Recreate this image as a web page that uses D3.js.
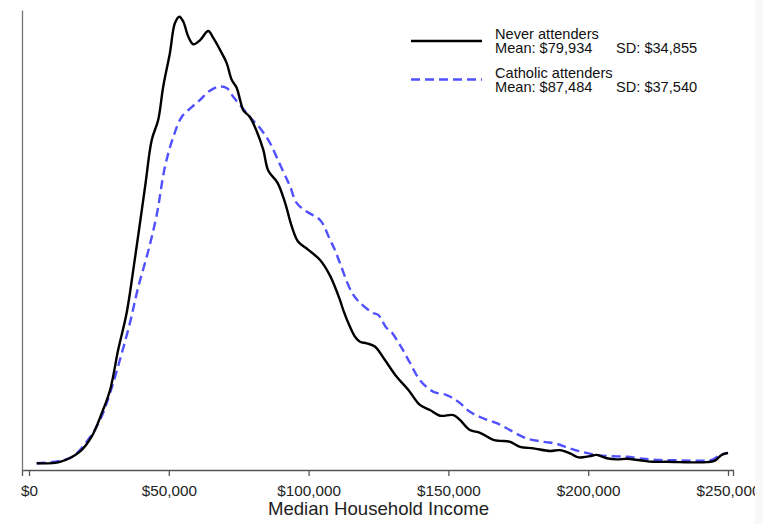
<!DOCTYPE html>
<html>
<head>
<meta charset="utf-8">
<script src="https://cdn.jsdelivr.net/npm/d3@7"></script>
<style>
  html, body { margin: 0; padding: 0; background: #ffffff; }
  svg { display: block; }
  text { font-family: Arial, "Liberation Sans", sans-serif; }
</style>
</head>
<body>
<svg id="chart" width="763" height="524"></svg>
<script>
// ---- Data (density in units of 1e-6 per dollar) ----
const neverIncome = [2750, 11100, 18200, 22400, 26000, 29000, 31900, 34900, 37300, 41500, 43900, 46200, 48000, 50400, 52200, 53800, 55200, 57000, 58800, 61200, 64100, 65900, 68900, 70700, 72500, 74300, 75500, 76600, 79000, 81400, 83800, 85600, 88900, 91600, 94000, 96300, 99900, 104100, 107700, 111200, 112400, 114800, 116600, 118400, 120800, 123700, 127300, 131500, 135700, 139800, 143400, 147000, 151800, 154100, 157700, 161300, 166100, 168500, 172000, 175600, 180400, 186300, 189900, 193500, 196500, 200600, 203000, 206600, 210200, 213800, 218500, 223300, 228100, 232800, 238800, 242400, 245300, 247700, 250000];
const neverDensity = [0.09, 0.14, 0.48, 0.98, 1.76, 2.54, 3.88, 5.10, 6.55, 9.32, 10.89, 11.56, 12.67, 13.80, 14.80, 15.01, 14.84, 14.34, 14.09, 14.23, 14.53, 14.30, 13.80, 13.46, 12.90, 12.63, 12.23, 11.89, 11.66, 11.19, 10.56, 9.86, 9.46, 8.79, 8.00, 7.49, 7.22, 6.88, 6.35, 5.55, 5.21, 4.65, 4.32, 4.15, 4.10, 3.99, 3.54, 2.98, 2.54, 2.04, 1.87, 1.68, 1.70, 1.54, 1.20, 1.11, 0.87, 0.84, 0.81, 0.64, 0.59, 0.50, 0.53, 0.42, 0.29, 0.33, 0.37, 0.26, 0.22, 0.24, 0.19, 0.14, 0.14, 0.13, 0.12, 0.13, 0.18, 0.37, 0.44];

const catholicIncome = [2750, 14700, 21100, 25400, 29000, 32500, 36100, 39000, 42700, 45700, 48600, 51600, 54600, 58200, 61200, 64100, 67700, 70700, 73100, 76100, 79000, 82600, 86200, 89800, 93300, 95700, 99300, 104100, 107700, 109400, 111200, 115400, 118400, 123100, 124900, 127900, 129100, 132700, 136300, 139800, 144600, 149400, 153500, 157700, 162500, 167300, 172000, 178000, 183900, 188700, 193500, 198200, 203000, 207800, 213800, 219700, 225700, 231700, 237600, 242400, 244700, 247100, 250000];
const catholicDensity = [0.09, 0.27, 0.87, 1.54, 2.44, 3.54, 4.78, 5.95, 7.20, 8.40, 9.99, 10.99, 11.66, 11.99, 12.23, 12.50, 12.67, 12.63, 12.33, 11.99, 11.66, 11.29, 10.79, 10.06, 9.36, 8.79, 8.50, 8.22, 7.55, 7.22, 6.78, 5.81, 5.45, 5.11, 5.05, 4.61, 4.54, 4.04, 3.44, 2.87, 2.48, 2.37, 2.15, 1.81, 1.59, 1.43, 1.20, 0.92, 0.81, 0.74, 0.59, 0.46, 0.37, 0.33, 0.31, 0.24, 0.20, 0.19, 0.18, 0.18, 0.22, 0.37, 0.44];

const xTicks = [0, 50000, 100000, 150000, 200000, 250000];
const seriesNames = ["Never attenders", "Catholic attenders"];
const seriesMeans = ["Mean: $79,934", "Mean: $87,484"];
const seriesSDs = ["SD: $34,855", "SD: $37,540"];
const xTitle = "Median Household Income";

// ---- Chart ----
const svg = d3.select("#chart");
svg.append("rect").attr("x", 0).attr("y", 0).attr("width", 763).attr("height", 524).attr("fill", "#ffffff");
svg.append("rect").attr("x", 755).attr("y", 0).attr("width", 8).attr("height", 524).attr("fill", "#f8f8f8");

const x = d3.scaleLinear().domain([0, 250000]).range([29, 728]);
const y = d3.scaleLinear().domain([0, 15]).range([466, 17]);

const clip = svg.append("defs").append("clipPath").attr("id", "pageclip");
clip.append("rect").attr("x", 0).attr("y", 0).attr("width", 755).attr("height", 524);

const g = svg.append("g").attr("clip-path", "url(#pageclip)");

// axes
const xAxisScale = x.copy().domain([x.invert(22), x.invert(733)]).range([22, 733]);
const xAxis = g.append("g").attr("transform", "translate(0,470)")
  .call(d3.axisBottom(xAxisScale).tickValues(xTicks).tickSizeOuter(0).tickSize(6).tickPadding(9)
    .tickFormat(d => "$" + d3.format(",")(d)));
xAxis.select(".domain").attr("stroke", "#555").attr("stroke-width", 1.3);
xAxis.selectAll(".tick line").attr("stroke", "#555").attr("stroke-width", 1.3);
xAxis.selectAll(".tick text").attr("fill", "#222").style("font-size", "15.3px")
  .style("font-family", "Arial, 'Liberation Sans', sans-serif");

const yAxisScale = y.copy().domain([y.invert(470), y.invert(10)]).range([470, 10]);
const yAxis = g.append("g").attr("transform", "translate(22,0)")
  .call(d3.axisLeft(yAxisScale).tickValues([]).tickSizeOuter(0));
yAxis.select(".domain").attr("stroke", "#777").attr("stroke-width", 1.3);

g.append("text").attr("x", (x(0) + x(250000)) / 2).attr("y", 515)
  .attr("text-anchor", "middle").attr("fill", "#222").style("font-size", "18.6px").text(xTitle);

// lines
const line = d3.line().x(d => x(d[0])).y(d => y(d[1])).curve(d3.curveCatmullRom.alpha(0.5));
const neverPts = neverIncome.map((v, i) => [v, neverDensity[i]]);
const catholicPts = catholicIncome.map((v, i) => [v, catholicDensity[i]]);

g.append("path").datum(catholicPts).attr("d", line).attr("fill", "none")
  .attr("stroke", "#5050ff").attr("stroke-width", 2.4).attr("stroke-dasharray", "9,5");
g.append("path").datum(neverPts).attr("d", line).attr("fill", "none")
  .attr("stroke", "#000").attr("stroke-width", 2.4).attr("stroke-linejoin", "round");

// legend
const legend = g.append("g");
const legY = [41, 79.5];
const legTextY = [38.5, 77.5];
const legStyles = [{ stroke: "#000", dash: null }, { stroke: "#5050ff", dash: "9,5" }];
seriesNames.forEach((name, i) => {
  legend.append("line").attr("x1", 411).attr("x2", 482).attr("y1", legY[i]).attr("y2", legY[i])
    .attr("stroke", legStyles[i].stroke).attr("stroke-width", 2.4)
    .attr("stroke-dasharray", legStyles[i].dash);
  legend.append("text").attr("x", 495).attr("y", legTextY[i]).attr("fill", "#111")
    .style("font-size", "14.6px").text(name);
  legend.append("text").attr("x", 495).attr("y", legTextY[i] + 14.5).attr("fill", "#111")
    .style("font-size", "14.6px").text(seriesMeans[i]);
  legend.append("text").attr("x", 616).attr("y", legTextY[i] + 14.5).attr("fill", "#111")
    .style("font-size", "14.6px").text(seriesSDs[i]);
});
</script>
</body>
</html>
